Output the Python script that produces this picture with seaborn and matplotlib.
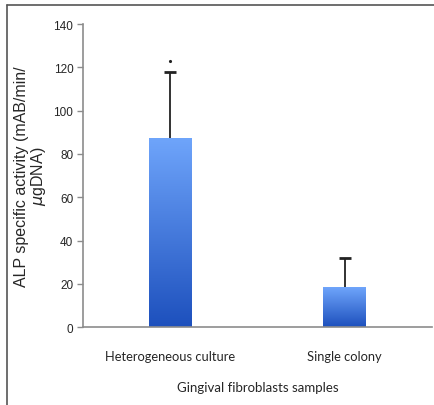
import numpy as np
import pandas as pd
import seaborn as sns
import matplotlib.pyplot as plt
from matplotlib.colors import LinearSegmentedColormap
from matplotlib.lines import Line2D

samples = ["Heterogeneous culture", "Single colony"]
activity = [87.6, 18.4]
sd_upper = [30.4, 13.6]
star_y = [123.2]

df = pd.DataFrame({"sample": samples, "activity": activity})

sns.set_style("white")
plt.rcParams['font.family'] = ['Liberation Sans', 'DejaVu Sans']

fig = plt.figure(figsize=(4.35, 4.06), dpi=100)
ax = fig.add_axes([0.191, 0.192, 0.802, 0.746])

sns.barplot(data=df, x="sample", y="activity", color="#3f7ae0", width=0.246,
            ax=ax, errorbar=None, linewidth=0)

# vertical gradient in each bar
cmap = LinearSegmentedColormap.from_list("blu", ["#1d50bd", "#6fa5fb"])
grad = np.linspace(0, 1, 256).reshape(-1, 1)
for p in ax.patches:
    x0, y0 = p.get_x(), p.get_y()
    w, h = p.get_width(), p.get_height()
    im = ax.imshow(grad, cmap=cmap, origin="lower", aspect="auto",
                   extent=[x0, x0 + w, y0, y0 + h], zorder=2)
    im.set_clip_path(p)
    p.set_facecolor("none")

# upper-only error bars
xs = np.arange(len(samples))
tops = np.array(activity) + np.array(sd_upper)
ax.vlines(xs, activity, tops, color="#222222", linewidth=1.3, zorder=3)
ax.plot(xs, tops, linestyle="none", marker="_", markersize=8,
        markeredgewidth=2, color="#222222", zorder=3)
ax.plot([0], star_y, marker=".", color="#222222", markersize=2.5, zorder=3)

ax.set_xlim(-0.5, 1.5)
ax.set_ylim(0, 140)
ax.set_yticks(range(0, 141, 20))

for s in ["top", "right"]:
    ax.spines[s].set_visible(False)
for s in ["left", "bottom"]:
    ax.spines[s].set_color("#8c8c8c")
    ax.spines[s].set_linewidth(1.2)

ax.tick_params(axis="y", which="both", left=True, length=4, width=1,
               color="#8c8c8c", labelsize=8.5, pad=3)
ax.tick_params(axis="x", bottom=False, pad=13)
for lab in ax.get_yticklabels():
    lab.set_family(['Liberation Sans Narrow', 'Liberation Sans', 'DejaVu Sans'])
for lab in ax.get_xticklabels():
    lab.set_family(['Lato', 'DejaVu Sans'])
    lab.set_fontsize(9.3)

ax.set_xlabel("Gingival fibroblasts samples", family=['Lato', 'DejaVu Sans'],
              fontsize=9.5, labelpad=14)
ax.set_ylabel("ALP specific activity (mAB/min/\n$\\mu$gDNA)", fontsize=11.5,
              labelpad=4, linespacing=0.98)

fig.add_artist(Line2D([7 / 435, 1.0], [1 - 6 / 406, 1 - 6 / 406],
                      color="#555555", linewidth=1.2))
fig.add_artist(Line2D([7 / 435, 7 / 435], [0, 1 - 6 / 406],
                      color="#555555", linewidth=1.2))

fig.savefig("out.png", dpi=100)
